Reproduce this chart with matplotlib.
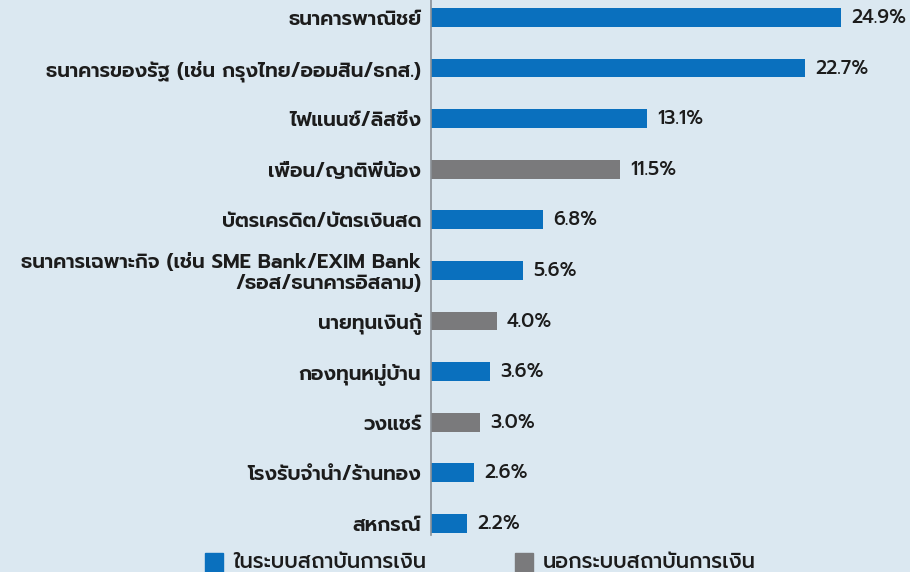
import matplotlib
matplotlib.use("Agg")
import matplotlib.pyplot as plt
from matplotlib.patches import Rectangle

plt.rcParams['font.family'] = ['Prompt', 'DejaVu Sans']

categories = [
    "ธนาคารพาณิชย์",
    "ธนาคารของรัฐ (เช่น กรุงไทย/ออมสิน/ธกส.)",
    "ไฟแนนซ์/ลิสซิ่ง",
    "เพื่อน/ญาติพี่น้อง",
    "บัตรเครดิต/บัตรเงินสด",
    "ธนาคารเฉพาะกิจ (เช่น SME Bank/EXIM Bank\n/ธอส/ธนาคารอิสลาม)",
    "นายทุนเงินกู้",
    "กองทุนหมู่บ้าน",
    "วงแชร์",
    "โรงรับจำนำ/ร้านทอง",
    "สหกรณ์",
]
values = [24.9, 22.7, 13.1, 11.5, 6.8, 5.6, 4.0, 3.6, 3.0, 2.6, 2.2]
# True = in the formal financial system
formal = [True, True, True, False, True, True, False, True, False, True, True]
legend_labels = ["ในระบบสถาบันการเงิน", "นอกระบบสถาบันการเงิน"]

BLUE = "#0a70be"
GRAY = "#7a7a7c"
BG = "#dbe8f1"

W, H = 910, 572
fig = plt.figure(figsize=(W / 100, H / 100), dpi=100, facecolor=BG)
ax = fig.add_axes([431 / W, 1 - 535 / H, 1 - 431 / W, 535 / H])
ax.set_facecolor(BG)

ypos = list(range(len(values)))
colors = [BLUE if f else GRAY for f in formal]
ax.barh(ypos, values, height=0.37, color=colors)
ax.set_xlim(0, (W - 431) / 16.47)
ax.set_ylim(10.23, -0.346)

for y, v in zip(ypos, values):
    ax.text(v + 0.62, y, "%.1f%%" % v, va="center", ha="left", fontsize=13.8,
            fontweight="medium", color="#1c1c1c")

ax.set_yticks(ypos)
ax.set_yticklabels(categories, fontsize=14.4, fontweight="semibold",
                   color="#1c1c1c", linespacing=1.12)
ax.tick_params(axis="y", length=0, pad=7)
ax.set_xticks([])
for s in ["top", "right", "bottom"]:
    ax.spines[s].set_visible(False)
ax.spines["left"].set_color("#8a9096")
ax.spines["left"].set_linewidth(1.2)

# legend along the bottom edge
for (x0, col), lab in zip([(205, BLUE), (515, GRAY)], legend_labels):
    fig.patches.append(Rectangle((x0 / W, 0), 18 / W, 19 / H, color=col,
                                 transform=fig.transFigure))
    fig.text((x0 + 28) / W, 1 - 563 / H, lab, fontsize=15,
             fontweight="medium", va="center", ha="left", color="#1c1c1c")

fig.savefig("out.png", facecolor=BG)
